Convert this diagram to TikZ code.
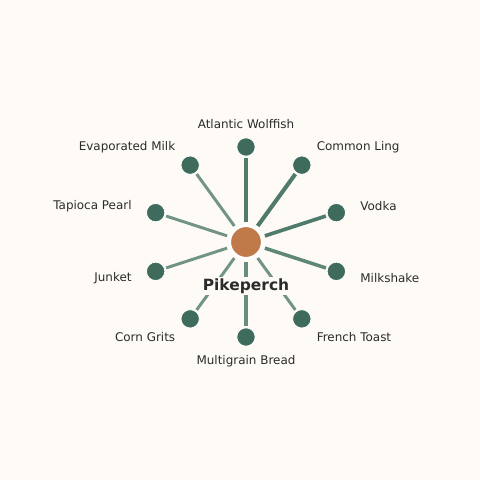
\documentclass[tikz,border=0pt]{standalone}
\usepackage{fontspec}
\setmainfont{DejaVu Sans}
\usepackage{xcolor}
\usetikzlibrary{positioning}
\definecolor{bgc}{HTML}{FEFAF6}
\definecolor{hubc}{HTML}{C07A4A}
\definecolor{leafc}{HTML}{3E6B5C}
\definecolor{spkc}{HTML}{4E7B6B}
\definecolor{txtc}{HTML}{2B2B2B}
\tikzset{hub/.style={circle,fill=hubc,draw=white,line width=1.5pt,minimum size=0.8cm,inner sep=0pt},
leaf/.style={circle,fill=leafc,draw=white,line width=0.6pt,minimum size=0.46cm,inner sep=0pt},
lbl/.style={text=txtc,font=\fontsize{8.5}{10}\selectfont,inner sep=0pt},
spk/.style={draw=spkc,shorten <=2pt,shorten >=1pt}}

\begin{document}
\begin{tikzpicture}
        \fill[bgc] (-6.15,-5.95) rectangle (5.85,6.05);
        \useasboundingbox (-6.15,-5.95) rectangle (5.85,6.05);

        \node[hub] (pp) at (0,0) {};
        \node[leaf] (aw) at (90:2.375) {};
        \node[leaf] (cl) at (54:2.375) {};
        \node[leaf] (vo) at (18:2.375) {};
        \node[leaf] (ms) at (-18:2.375) {};
        \node[leaf] (ft) at (-54:2.375) {};
        \node[leaf] (mb) at (-90:2.375) {};
        \node[leaf] (cg) at (-126:2.375) {};
        \node[leaf] (ju) at (-162:2.375) {};
        \node[leaf] (tp) at (162:2.375) {};
        \node[leaf] (em) at (126:2.375) {};

        \draw[spk,line width=2.9pt] (pp) -- (aw);
        \draw[spk,line width=2.9pt] (pp) -- (cl);
        \draw[spk,line width=2.6pt] (pp) -- (vo);
        \draw[spk,line width=2.5pt,draw opacity=0.9] (pp) -- (ms);
        \draw[spk,line width=2.1pt,draw opacity=0.8] (pp) -- (ft);
        \draw[spk,line width=2.2pt,draw opacity=0.85] (pp) -- (mb);
        \draw[spk,line width=2.1pt,draw opacity=0.8] (pp) -- (cg);
        \draw[spk,line width=2.1pt,draw opacity=0.8] (pp) -- (ju);
        \draw[spk,line width=2.1pt,draw opacity=0.8] (pp) -- (tp);
        \draw[spk,line width=2.1pt,draw opacity=0.8] (pp) -- (em);

        \node[fill=bgc,text=txtc,font=\fontsize{11}{13}\selectfont\bfseries,inner sep=1pt] (ppl) at (0,-1.1) {Pikeperch};

        \node[lbl] (awl) at (90:2.95) {Atlantic Wolffish};
        \node[lbl,anchor=west] (cll) at (54:3 and 2.93) {Common Ling};
        \node[lbl,anchor=west] (vol) at (18:3 and 2.93) {Vodka};
        \node[lbl,anchor=west] (msl) at (-18:3 and 2.93) {Milkshake};
        \node[lbl,anchor=west] (ftl) at (-54:3 and 2.93) {French Toast};
        \node[lbl] (mbl) at (-90:2.97) {Multigrain Bread};
        \node[lbl,anchor=east] (cgl) at (-126:3 and 2.93) {Corn Grits};
        \node[lbl,anchor=east] (jul) at (-162:3 and 2.93) {Junket};
        \node[lbl,anchor=east] (tpl) at (162:3 and 2.93) {Tapioca Pearl};
        \node[lbl,anchor=east] (eml) at (126:3 and 2.93) {Evaporated Milk};
    \end{tikzpicture}
\end{document}
